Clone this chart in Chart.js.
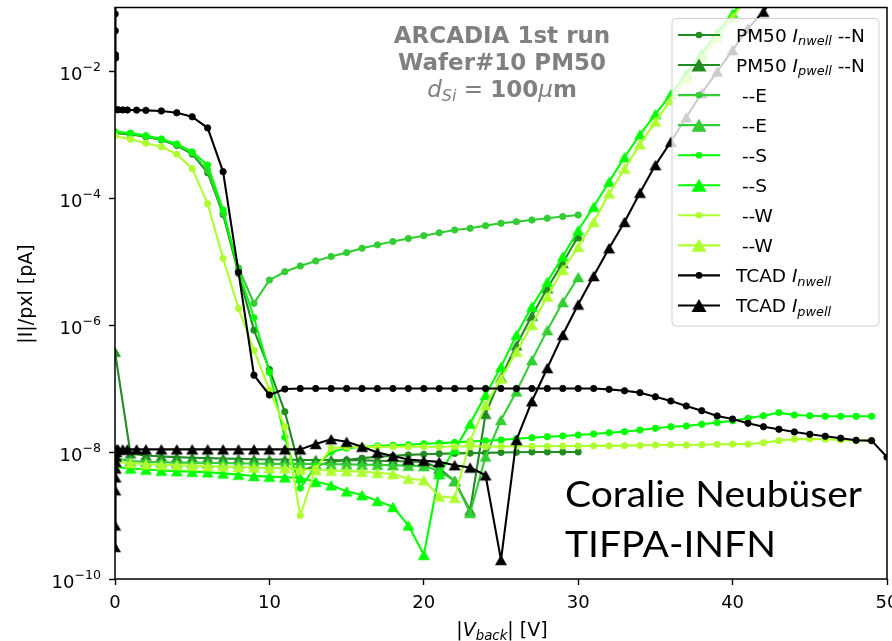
<!DOCTYPE html>
<html>
<head>
<meta charset="utf-8">
<script src="https://cdn.jsdelivr.net/npm/chart.js@4/dist/chart.umd.min.js"></script>
<style>
  html, body { margin: 0; padding: 0; background: #ffffff; }
  #wrap { width: 892px; height: 641px; position: relative; }
</style>
</head>
<body>
<div id="wrap"><canvas id="c"></canvas></div>
<script>
// ---- back-bias voltages [V] ----
const vShort = [0,1,2,3,4,5,6,7,8,9,10,11,12,13,14,15,16,17,18,19,20,21,22,23,24,25,26,27,28,29,30];
const vLong = [0,1,2,3,4,5,6,7,8,9,10,11,12,13,14,15,16,17,18,19,20,21,22,23,24,25,26,27,28,29,30,31,32,33,34,35,36,37,38,39,40,41,42,43,44,45,46,47,48,49];
const vPwellLong = [0,1,2,3,4,5,6,7,8,9,10,11,12,13,14,15,16,17,18,19,20,21,22,23,24,25,26,27,28,29,30,31,32,33,34,35,36,37,38,39,40,41];

// ---- PM50 measurements, |I| per pixel [pA] ----
const nwellN = [1.05e-3,1.0e-3,9.2e-4,8.2e-4,6.7e-4,4.9e-4,2.5e-4,5.5e-5,6.5e-6,8.3e-7,2.0e-7,4.3e-8,5.0e-9,6.0e-9,7.0e-9,7.5e-9,8.0e-9,8.4e-9,8.7e-9,9.0e-9,9.2e-9,9.4e-9,9.5e-9,9.6e-9,9.7e-9,9.8e-9,9.9e-9,1.0e-8,1.0e-8,1.0e-8,1.0e-8];
const pwellN = [3.8e-7,9.5e-9,8.8e-9,8.5e-9,8.3e-9,8.1e-9,8.0e-9,7.9e-9,7.8e-9,7.7e-9,7.6e-9,7.6e-9,7.5e-9,7.5e-9,7.5e-9,7.4e-9,7.4e-9,7.3e-9,7.2e-9,7.1e-9,7.0e-9,5.5e-9,3.5e-9,1.2e-9,4.0e-8,1.5e-7,4.8e-7,1.4e-6,3.8e-6,9.5e-6,2.5e-5];
const nwellE = [1.1e-3,1.03e-3,9.4e-4,8.3e-4,6.9e-4,5.1e-4,2.7e-4,5.8e-5,7.9e-6,2.2e-6,5.1e-6,6.9e-6,8.5e-6,1.02e-5,1.2e-5,1.38e-5,1.62e-5,1.83e-5,2.06e-5,2.3e-5,2.55e-5,2.84e-5,3.13e-5,3.33e-5,3.67e-5,4.0e-5,4.24e-5,4.5e-5,4.8e-5,5.1e-5,5.4e-5];
const pwellE = [8.0e-9,7.2e-9,7.0e-9,6.9e-9,6.8e-9,6.8e-9,6.7e-9,6.7e-9,6.6e-9,6.6e-9,6.5e-9,6.5e-9,6.5e-9,6.5e-9,6.4e-9,6.4e-9,6.3e-9,6.3e-9,6.2e-9,6.1e-9,6.0e-9,5.0e-9,3.5e-9,1.1e-9,8.5e-9,3.2e-8,9.0e-8,2.8e-7,8.3e-7,2.3e-6,5.7e-6];
const nwellS = [1.1e-3,1.05e-3,9.6e-4,8.5e-4,7.1e-4,5.3e-4,3.3e-4,6.5e-5,7.0e-6,1.3e-6,1.8e-7,1.7e-8,2.7e-9,6.0e-9,1.0e-8,1.15e-8,1.2e-8,1.25e-8,1.28e-8,1.3e-8,1.35e-8,1.38e-8,1.42e-8,1.46e-8,1.5e-8,1.55e-8,1.62e-8,1.68e-8,1.74e-8,1.79e-8,1.85e-8,1.92e-8,2.01e-8,2.09e-8,2.22e-8,2.36e-8,2.5e-8,2.57e-8,2.73e-8,2.9e-8,3.1e-8,3.4e-8,3.73e-8,4.17e-8,3.83e-8,3.73e-8,3.65e-8,3.65e-8,3.65e-8,3.65e-8];
const pwellS = [5.8e-9,5.5e-9,5.3e-9,5.1e-9,5.0e-9,4.9e-9,4.8e-9,4.6e-9,4.4e-9,4.2e-9,4.1e-9,4.0e-9,3.9e-9,3.4e-9,3.0e-9,2.4e-9,2.1e-9,1.7e-9,1.37e-9,7.0e-10,2.4e-10,4.5e-9,1.1e-8,2.8e-8,7.9e-8,2.2e-7,7.0e-7,1.95e-6,4.8e-6,1.2e-5,3.1e-5,7.3e-5,1.8e-4,4.4e-4,1.0e-3,2.1e-3,4.3e-3,9.0e-3,1.9e-2,4.0e-2,8.0e-2,1.6e-1];
const nwellW = [9.5e-4,8.4e-4,7.3e-4,6.4e-4,4.9e-4,2.9e-4,8.1e-5,1.12e-5,1.83e-6,4.0e-7,9.5e-8,2.5e-8,1.0e-9,5.5e-9,1.15e-8,1.2e-8,1.2e-8,1.2e-8,1.21e-8,1.21e-8,1.21e-8,1.21e-8,1.22e-8,1.22e-8,1.22e-8,1.22e-8,1.23e-8,1.23e-8,1.23e-8,1.24e-8,1.24e-8,1.25e-8,1.25e-8,1.26e-8,1.27e-8,1.29e-8,1.3e-8,1.29e-8,1.3e-8,1.32e-8,1.33e-8,1.33e-8,1.4e-8,1.51e-8,1.59e-8,1.61e-8,1.59e-8,1.55e-8,1.51e-8,1.51e-8];
const pwellW = [7.0e-9,6.7e-9,6.4e-9,6.3e-9,6.2e-9,6.1e-9,6.0e-9,5.9e-9,5.8e-9,5.7e-9,5.6e-9,5.6e-9,5.3e-9,5.2e-9,5.1e-9,5.0e-9,4.9e-9,4.7e-9,4.5e-9,3.8e-9,3.6e-9,2.0e-9,1.9e-9,1.5e-8,5.5e-8,1.44e-7,3.8e-7,1.0e-6,2.8e-6,7.4e-6,1.7e-5,4.2e-5,1.18e-4,2.9e-4,7.0e-4,1.6e-3,3.5e-3,7.5e-3,1.6e-2,3.4e-2,7.0e-2,1.5e-1];

// ---- TCAD simulation ----
const vTcadNwell = [0,0.01,0.02,0.03,0.04,0.06,0.2,0.5,0.8,1.4,2,3,4,5,6,7,8,9,10,11,12,13,14,15,16,17,18,19,20,21,22,23,24,25,26,27,28,29,30,31,32,33,34,35,36,37,38,39,40,41,42,43,44,45,46,47,48,49,50];
const tcadNwell = [0.25,0.079,0.043,0.018,0.016,2.45e-3,2.45e-3,2.44e-3,2.43e-3,2.42e-3,2.4e-3,2.35e-3,2.2e-3,1.9e-3,1.27e-3,2.6e-4,6.8e-6,1.62e-7,7.9e-8,9.8e-8,1.0e-7,1.0e-7,1.0e-7,1.0e-7,1.0e-7,1.0e-7,1.0e-7,1.0e-7,1.0e-7,1.0e-7,1.0e-7,1.0e-7,1.0e-7,1.0e-7,1.0e-7,1.0e-7,1.0e-7,1.0e-7,1.0e-7,1.0e-7,9.7e-8,9.2e-8,8.6e-8,7.4e-8,6.35e-8,5.3e-8,4.47e-8,3.7e-8,3.3e-8,2.83e-8,2.5e-8,2.28e-8,2.07e-8,1.9e-8,1.77e-8,1.65e-8,1.53e-8,1.51e-8,8.3e-9];
const vTcadPwell = [0,0.01,0.02,0.03,0.04,0.05,0.06,0.08,0.1,0.2,0.5,0.8,1.4,2,3,4,5,6,7,8,9,10,11,12,13,14,15,16,17,18,19,20,21,22,23,24,25,26,27,28,29,30,31,32,33,34,35,36,37,38,39,40,41,42,43];
const tcadPwell = [3.2e-10,7.0e-10,2.5e-9,4.0e-9,5.5e-9,7.0e-9,8.5e-9,1.0e-8,1.1e-8,1.1e-8,1.1e-8,1.1e-8,1.1e-8,1.1e-8,1.1e-8,1.1e-8,1.1e-8,1.1e-8,1.1e-8,1.1e-8,1.1e-8,1.1e-8,1.1e-8,1.1e-8,1.34e-8,1.59e-8,1.45e-8,1.21e-8,9.8e-9,8.65e-9,7.6e-9,7.3e-9,7.0e-9,6.2e-9,5.7e-9,4.3e-9,2.0e-10,1.55e-8,6.3e-8,2.1e-7,7.0e-7,2.1e-6,5.9e-6,1.62e-5,4.2e-5,1.21e-4,3.3e-4,7.7e-4,1.87e-3,4.5e-3,9.8e-3,2.14e-2,4.7e-2,8.6e-2,0.19];

// ---- axis ticks ----
const xTicks = [0, 10, 20, 30, 40, 50];
const yTickExps = [-10, -8, -6, -4, -2];

const C_N = '#228b22', C_E = '#32cd32', C_S = '#00ff00', C_W = '#adff2f', C_T = '#000000';
const FONT = '"DejaVu Sans"';

// filled upward triangle marker
function triangleMarker(color) {
  const c = document.createElement('canvas');
  c.width = 14; c.height = 14;
  const g = c.getContext('2d');
  g.fillStyle = color;
  g.beginPath();
  g.moveTo(7, 1.7); g.lineTo(13, 12.3); g.lineTo(1, 12.3); g.closePath();
  g.fill();
  return c;
}

const seriesDefs = [
  { xs: vShort, ys: nwellN, color: C_N, marker: 'o' },
  { xs: vShort, ys: pwellN, color: C_N, marker: '^' },
  { xs: vShort, ys: nwellE, color: C_E, marker: 'o' },
  { xs: vShort, ys: pwellE, color: C_E, marker: '^' },
  { xs: vLong, ys: nwellS, color: C_S, marker: 'o' },
  { xs: vPwellLong, ys: pwellS, color: C_S, marker: '^' },
  { xs: vLong, ys: nwellW, color: C_W, marker: 'o' },
  { xs: vPwellLong, ys: pwellW, color: C_W, marker: '^' },
  { xs: vTcadNwell, ys: tcadNwell, color: C_T, marker: 'o' },
  { xs: vTcadPwell, ys: tcadPwell, color: C_T, marker: '^' }
];

const datasets = seriesDefs.map((s, i) => ({
  data: s.xs.map((x, k) => ({ x: x, y: s.ys[k] })),
  borderColor: s.color,
  backgroundColor: s.color,
  borderWidth: 2.1,
  borderJoinStyle: 'round',
  pointStyle: s.marker === 'o' ? 'circle' : triangleMarker(s.color),
  pointRadius: s.marker === 'o' ? 3.2 : 5,
  pointBorderWidth: s.marker === 'o' ? 0.8 : 0,
  pointBackgroundColor: s.color,
  pointBorderColor: s.color,
  tension: 0,
  clip: 0,
  order: 100 - i
}));

// legend entries: [text, style] with style 0 = upright, 1 = italic, 2 = italic subscript
const legendEntries = [
  { color: C_N, marker: 'o', runs: [['PM50 ', 0], ['I', 1], ['nwell', 2], [' --N', 0]] },
  { color: C_N, marker: '^', runs: [['PM50 ', 0], ['I', 1], ['pwell', 2], [' --N', 0]] },
  { color: C_E, marker: 'o', runs: [[' --E', 0]] },
  { color: C_E, marker: '^', runs: [[' --E', 0]] },
  { color: C_S, marker: 'o', runs: [[' --S', 0]] },
  { color: C_S, marker: '^', runs: [[' --S', 0]] },
  { color: C_W, marker: 'o', runs: [[' --W', 0]] },
  { color: C_W, marker: '^', runs: [[' --W', 0]] },
  { color: C_T, marker: 'o', runs: [['TCAD ', 0], ['I', 1], ['nwell', 2]] },
  { color: C_T, marker: '^', runs: [['TCAD ', 0], ['I', 1], ['pwell', 2]] }
];

function drawRuns(ctx, runs, x, y, align) {
  let w = 0;
  runs.forEach(r => { ctx.font = r[1]; w += ctx.measureText(r[0]).width; });
  let cx = align === 'center' ? x - w / 2 : (align === 'right' ? x - w : x);
  ctx.textAlign = 'left';
  ctx.textBaseline = 'alphabetic';
  runs.forEach(r => {
    ctx.font = r[1];
    ctx.fillText(r[0], cx, y + (r[2] || 0));
    cx += ctx.measureText(r[0]).width;
  });
  return w;
}

function roundRect(ctx, x, y, w, h, r) {
  ctx.beginPath();
  ctx.moveTo(x + r, y);
  ctx.lineTo(x + w - r, y); ctx.quadraticCurveTo(x + w, y, x + w, y + r);
  ctx.lineTo(x + w, y + h - r); ctx.quadraticCurveTo(x + w, y + h, x + w - r, y + h);
  ctx.lineTo(x + r, y + h); ctx.quadraticCurveTo(x, y + h, x, y + h - r);
  ctx.lineTo(x, y + r); ctx.quadraticCurveTo(x, y, x + r, y);
  ctx.closePath();
}

function drawLegend(ctx) {
  ctx.save();
  roundRect(ctx, 672, 18.5, 207, 307.5, 4);
  ctx.fillStyle = 'rgba(255,255,255,0.8)';
  ctx.fill();
  ctx.strokeStyle = '#d0d0d0';
  ctx.lineWidth = 1;
  ctx.stroke();
  const fs = 18.5;
  legendEntries.forEach((e, i) => {
    const y = 35 + i * 30.05;
    ctx.strokeStyle = e.color; ctx.fillStyle = e.color;
    ctx.lineWidth = 2.1;
    ctx.beginPath(); ctx.moveTo(678, y); ctx.lineTo(720, y); ctx.stroke();
    if (e.marker === 'o') {
      ctx.beginPath(); ctx.arc(699, y, 3.3, 0, Math.PI * 2); ctx.fill();
    } else {
      ctx.beginPath(); ctx.moveTo(699, y - 6.5); ctx.lineTo(706.5, y + 6.5); ctx.lineTo(691.5, y + 6.5); ctx.closePath(); ctx.fill();
    }
    ctx.fillStyle = '#000';
    const runs = e.runs.map(r => {
      if (r[1] === 0) return [r[0], fs + 'px ' + FONT, 0];
      if (r[1] === 1) return [r[0], 'italic ' + fs + 'px ' + FONT, 0];
      return [r[0], 'italic ' + (fs * 0.7).toFixed(1) + 'px ' + FONT, 3.6];
    });
    drawRuns(ctx, runs, 736, y + 6.6, 'left');
  });
  ctx.restore();
}

const decor = {
  id: 'decor',
  afterDatasetsDraw(chart) {
    drawLegend(chart.ctx);
  },
  afterDraw(chart) {
    const ctx = chart.ctx, a = chart.chartArea;
    const xs = chart.scales.x, ys = chart.scales.y;
    ctx.save();
    // axes frame
    ctx.strokeStyle = '#000'; ctx.lineWidth = 1.5;
    ctx.strokeRect(a.left, a.top, a.right - a.left, a.bottom - a.top);
    ctx.fillStyle = '#000';
    // y tick labels 10^n
    yTickExps.forEach(e => {
      const py = ys.getPixelForValue(Math.pow(10, e));
      drawRuns(ctx, [['10', '18px ' + FONT, 8.7], ['\u2212' + (-e), '12.6px ' + FONT, 0.3]], 101, py, 'right');
    });
    // x tick labels
    ctx.font = '18px ' + FONT; ctx.textAlign = 'center'; ctx.textBaseline = 'alphabetic';
    xTicks.forEach(v => { ctx.fillText(String(v), xs.getPixelForValue(v), 607.5); });
    // axis titles
    drawRuns(ctx, [['|', '19px ' + FONT], ['V', 'italic 19px ' + FONT], ['back', 'italic 13.3px ' + FONT, 4], ['| [V]', '19px ' + FONT]], 502, 635.5, 'center');
    ctx.save();
    ctx.translate(32, 294); ctx.rotate(-Math.PI / 2);
    ctx.font = '19px ' + FONT; ctx.textAlign = 'center'; ctx.textBaseline = 'alphabetic';
    ctx.fillText('|I|/pxl [pA]', 0, 0);
    ctx.restore();
    // run / wafer annotation
    ctx.fillStyle = '#808080';
    const B = 'bold 23px ' + FONT;
    drawRuns(ctx, [['ARCADIA 1st run', B]], 502, 43.3, 'center');
    drawRuns(ctx, [['Wafer#10 PM50', B]], 502, 70, 'center');
    drawRuns(ctx, [['d', 'italic 23px ' + FONT], ['Si', 'italic 16px ' + FONT, 4.5], [' = ', '23px ' + FONT], ['100', B], ['\u03bc', 'italic 23px ' + FONT], ['m', B]], 502, 96.7, 'center');
    // author credit
    ctx.fillStyle = '#000';
    ctx.font = '36px Lato'; ctx.textAlign = 'left'; ctx.textBaseline = 'alphabetic';
    const t1 = 'Coralie Neub\u00fcser', t2 = 'TIFPA-INFN';
    const sx = 297 / ctx.measureText(t1).width;
    ctx.save(); ctx.translate(565, 506.7); ctx.scale(sx, 1); ctx.fillText(t1, 0, 0); ctx.restore();
    ctx.save(); ctx.translate(565, 557.3); ctx.scale(sx, 1); ctx.fillText(t2, 0, 0); ctx.restore();
    ctx.restore();
  }
};

new Chart(document.getElementById('c'), {
  type: 'line',
  data: { datasets: datasets },
  plugins: [decor],
  options: {
    responsive: true,
    maintainAspectRatio: false,
    devicePixelRatio: 1,
    animation: false,
    events: [],
    layout: { padding: { top: 7.5, right: 4.5, bottom: 0, left: 0 } },
    plugins: { legend: { display: false }, tooltip: { enabled: false }, title: { display: false } },
    scales: {
      x: {
        type: 'linear', min: 0, max: 50,
        ticks: { stepSize: 10, autoSkip: false, callback: () => '' },
        grid: { display: true, drawOnChartArea: false, drawTicks: true, tickLength: 6, tickWidth: 1.4, tickColor: '#000' },
        border: { display: false },
        afterFit(s) { s.height = 62; s.paddingLeft = 0; s.paddingRight = 0; }
      },
      y: {
        type: 'logarithmic', min: 1e-10, max: 1e-1,
        afterBuildTicks(s) { s.ticks = yTickExps.map(e => ({ value: Math.pow(10, e) })); },
        ticks: { autoSkip: false, callback: () => '' },
        grid: { display: true, drawOnChartArea: false, drawTicks: true, tickLength: 6, tickWidth: 1.4, tickColor: '#000' },
        border: { display: false },
        afterFit(s) { s.width = 115; s.paddingTop = 0; s.paddingBottom = 0; }
      }
    }
  }
});
</script>
</body>
</html>
